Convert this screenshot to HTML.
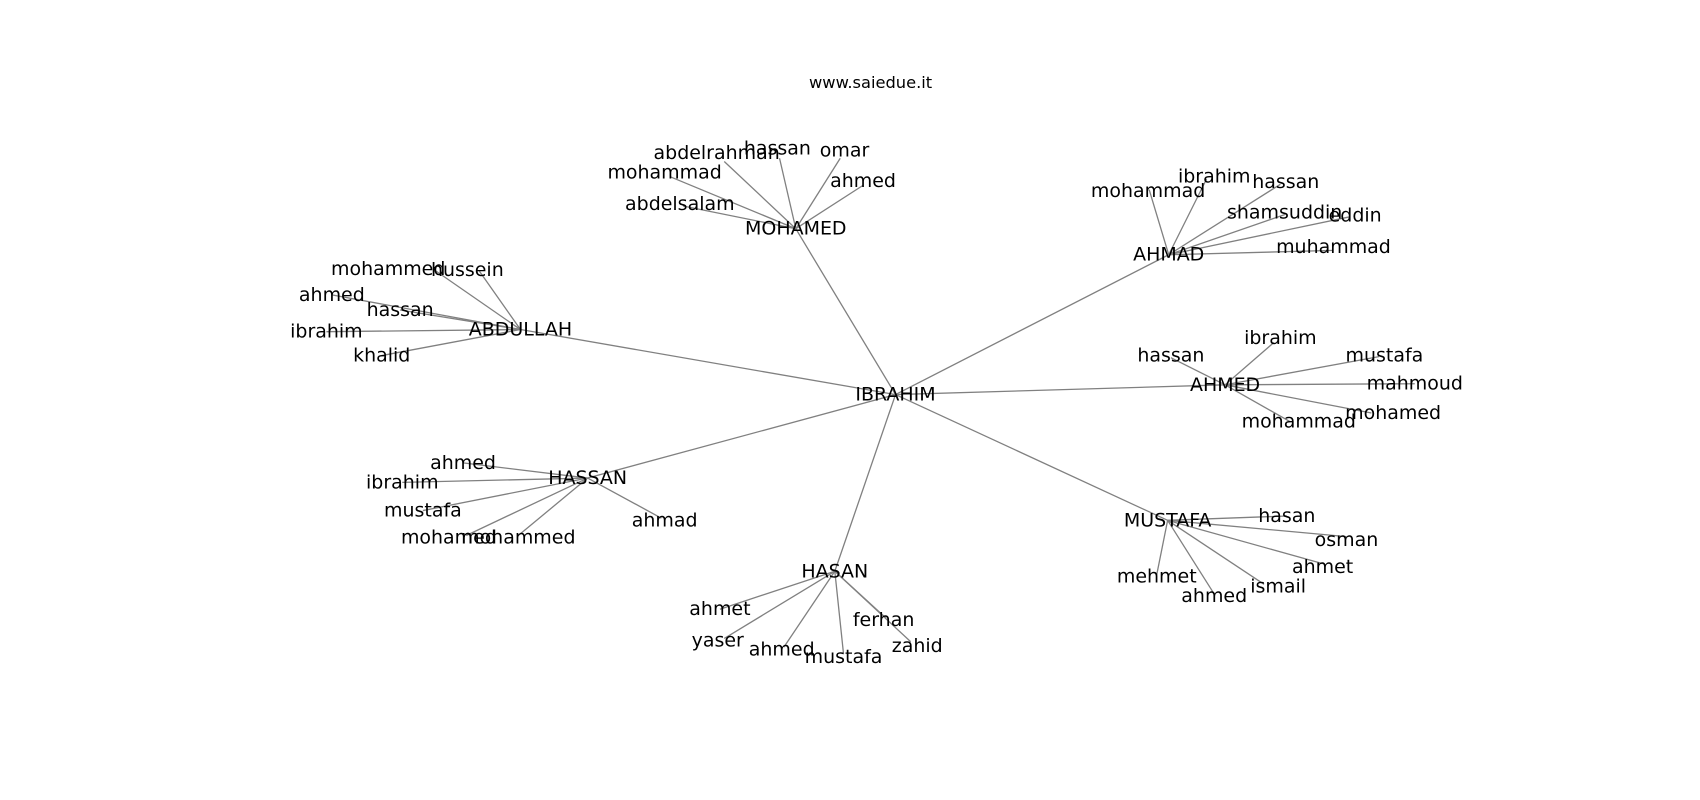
<!DOCTYPE html>
<html><head><meta charset="utf-8"><style>
html,body{margin:0;padding:0;background:#fff;}
svg{display:block;}
text{font-family:"DejaVu Sans","Liberation Sans",sans-serif;fill:#000;text-anchor:middle;dominant-baseline:central;}
line{stroke:#808080;stroke-width:1.2;}
</style></head><body>
<svg width="1700" height="800" viewBox="0 0 1568 738" xmlns="http://www.w3.org/2000/svg">
<text x="803" y="76" font-size="15">www.saiedue.it</text>
<g>
<line x1="826" y1="364" x2="734" y2="211"/>
<line x1="826" y1="364" x2="1078" y2="235"/>
<line x1="826" y1="364" x2="480" y2="304"/>
<line x1="826" y1="364" x2="1130" y2="355"/>
<line x1="826" y1="364" x2="542" y2="441"/>
<line x1="826" y1="364" x2="1077" y2="480"/>
<line x1="826" y1="364" x2="770" y2="527"/>
<line x1="734" y1="211" x2="668" y2="149"/>
<line x1="734" y1="211" x2="719" y2="146"/>
<line x1="734" y1="211" x2="775" y2="146"/>
<line x1="734" y1="211" x2="796" y2="171"/>
<line x1="734" y1="211" x2="618" y2="163"/>
<line x1="734" y1="211" x2="630" y2="190"/>
<line x1="1078" y1="235" x2="1060" y2="175"/>
<line x1="1078" y1="235" x2="1113" y2="165"/>
<line x1="1078" y1="235" x2="1181" y2="170"/>
<line x1="1078" y1="235" x2="1185" y2="198"/>
<line x1="1078" y1="235" x2="1245" y2="200"/>
<line x1="1078" y1="235" x2="1230" y2="231"/>
<line x1="480" y1="304" x2="402" y2="250"/>
<line x1="480" y1="304" x2="442" y2="250"/>
<line x1="480" y1="304" x2="306" y2="272"/>
<line x1="480" y1="304" x2="369" y2="286"/>
<line x1="480" y1="304" x2="301" y2="306"/>
<line x1="480" y1="304" x2="352" y2="328"/>
<line x1="1130" y1="355" x2="1080" y2="330"/>
<line x1="1130" y1="355" x2="1175" y2="316"/>
<line x1="1130" y1="355" x2="1272" y2="329"/>
<line x1="1130" y1="355" x2="1305" y2="354"/>
<line x1="1130" y1="355" x2="1265" y2="381"/>
<line x1="1130" y1="355" x2="1190" y2="389"/>
<line x1="542" y1="441" x2="427" y2="427"/>
<line x1="542" y1="441" x2="371" y2="445"/>
<line x1="542" y1="441" x2="390" y2="471"/>
<line x1="542" y1="441" x2="430" y2="494"/>
<line x1="542" y1="441" x2="478" y2="494"/>
<line x1="542" y1="441" x2="610" y2="478"/>
<line x1="1077" y1="480" x2="1187" y2="476"/>
<line x1="1077" y1="480" x2="1242" y2="495"/>
<line x1="1077" y1="480" x2="1220" y2="520"/>
<line x1="1077" y1="480" x2="1166" y2="539"/>
<line x1="1077" y1="480" x2="1120" y2="548"/>
<line x1="1077" y1="480" x2="1067" y2="530"/>
<line x1="770" y1="527" x2="664" y2="562"/>
<line x1="770" y1="527" x2="668" y2="589"/>
<line x1="770" y1="527" x2="723" y2="597"/>
<line x1="770" y1="527" x2="778" y2="603"/>
<line x1="770" y1="527" x2="817" y2="570"/>
<line x1="770" y1="527" x2="840" y2="592"/>
</g>
<g font-size="17.5">
<text x="826" y="364">IBRAHIM</text>
<text x="734" y="211">MOHAMED</text>
<text x="1078" y="235">AHMAD</text>
<text x="480" y="304">ABDULLAH</text>
<text x="1130" y="355">AHMED</text>
<text x="542" y="441">HASSAN</text>
<text x="1077" y="480">MUSTAFA</text>
<text x="770" y="527">HASAN</text>

<text x="661" y="141">abdelrahman</text>
<text x="717" y="137">hassan</text>
<text x="779" y="139">omar</text>
<text x="796" y="167">ahmed</text>
<text x="613" y="159">mohammad</text>
<text x="627" y="188">abdelsalam</text>

<text x="1059" y="176">mohammad</text>
<text x="1120" y="163">ibrahim</text>
<text x="1186" y="168">hassan</text>
<text x="1185" y="196">shamsuddin</text>
<text x="1250" y="199">eddin</text>
<text x="1230" y="228">muhammad</text>

<text x="358" y="248">mohammed</text>
<text x="431" y="249">hussein</text>
<text x="306" y="272">ahmed</text>
<text x="369" y="286">hassan</text>
<text x="301" y="306">ibrahim</text>
<text x="352" y="328">khalid</text>

<text x="1080" y="328">hassan</text>
<text x="1181" y="312">ibrahim</text>
<text x="1277" y="328">mustafa</text>
<text x="1305" y="354">mahmoud</text>
<text x="1285" y="381">mohamed</text>
<text x="1198" y="389">mohammad</text>

<text x="427" y="427">ahmed</text>
<text x="371" y="445">ibrahim</text>
<text x="390" y="471">mustafa</text>
<text x="414" y="496">mohamed</text>
<text x="478" y="496">mohammed</text>
<text x="613" y="480">ahmad</text>

<text x="1187" y="476">hasan</text>
<text x="1242" y="498">osman</text>
<text x="1220" y="523">ahmet</text>
<text x="1179" y="541">ismail</text>
<text x="1120" y="550">ahmed</text>
<text x="1067" y="532">mehmet</text>

<text x="664" y="562">ahmet</text>
<text x="662" y="591">yaser</text>
<text x="721" y="599">ahmed</text>
<text x="778" y="606">mustafa</text>
<text x="815" y="572">ferhan</text>
<text x="846" y="596">zahid</text>
</g>
</svg>
</body></html>
